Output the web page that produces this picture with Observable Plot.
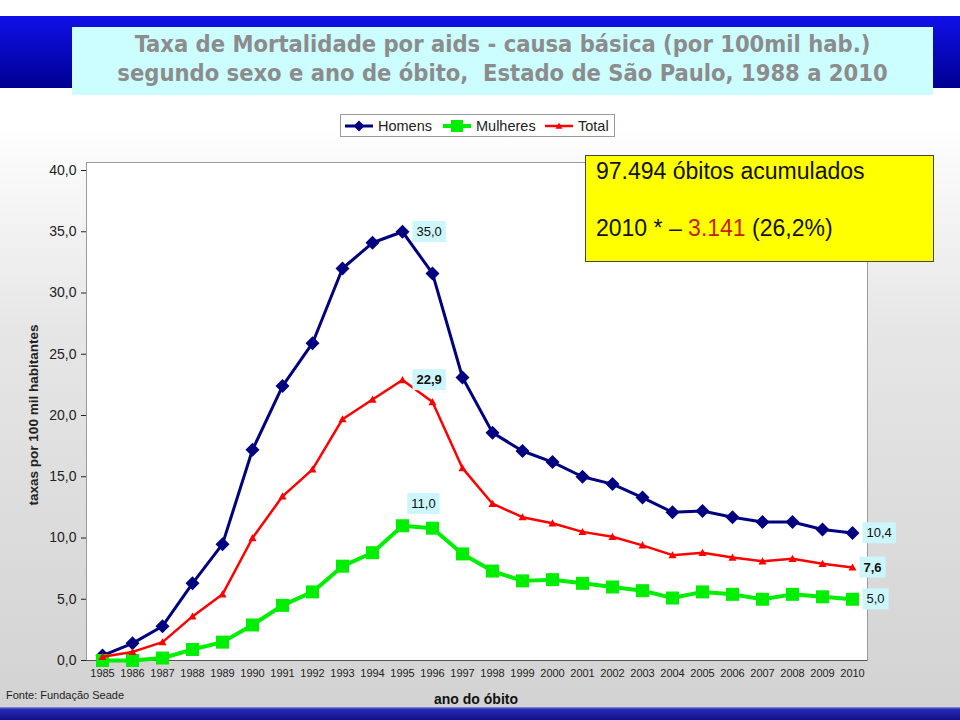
<!DOCTYPE html>
<html>
<head>
<meta charset="utf-8">
<script src="https://cdn.jsdelivr.net/npm/d3@7"></script>
<script src="https://cdn.jsdelivr.net/npm/@observablehq/plot@0.6"></script>
<style>
  body { margin: 0; }
  #page { position: relative; width: 960px; height: 720px; overflow: hidden;
    background: linear-gradient(to bottom, #ffffff 0px, #ffffff 120px, #e6e6e6 330px, #d3d3d3 700px);
    font-family: "Liberation Sans", Arial, sans-serif; }
  #topband { position: absolute; left: 0; top: 16px; width: 960px; height: 72px;
    background: linear-gradient(to bottom, #1010ea, #000092); }
  #titlebox { position: absolute; left: 72px; top: 27px; width: 861px; height: 68px; background: #ccfdff;
    box-sizing: border-box; padding-top: 3px; text-align: center; color: #8c8c8c;
    font-family: "DejaVu Sans Condensed", "DejaVu Sans", sans-serif; font-weight: bold; font-size: 23.5px; line-height: 29px; }
  #chart { position: absolute; left: 0; top: 0; }
  #legend { position: absolute; left: 340px; top: 114px; width: 275px; height: 23px; box-sizing: border-box;
    border: 1px solid #9a9a9a; background: #fff; font-size: 14.5px; color: #222; }
  #legend .item { position: absolute; top: 2px; height: 18px; line-height: 18px; }
  #legend svg { position: absolute; top: 0; left: 0; }
  #legend span { position: absolute; top: 0; white-space: nowrap; }
  #ybox { position: absolute; left: 585px; top: 155px; width: 349px; height: 107px; box-sizing: border-box;
    border: 1px solid #444; background: #ffff00; color: #111; font-size: 23px; }
  #ybox div { position: absolute; left: 10px; white-space: nowrap; }
  #ylabel { position: absolute; left: 33px; top: 415px; transform: translate(-50%, -50%) rotate(-90deg);
    font-weight: bold; font-size: 13.5px; color: #222; white-space: nowrap; }
  #xlabel { position: absolute; left: 476px; top: 699px; transform: translate(-50%, -50%);
    font-weight: bold; font-size: 14px; color: #111; white-space: nowrap; }
  #fonte { position: absolute; left: 6px; top: 689px; font-size: 11px; color: #222; white-space: nowrap; }
  #botband { position: absolute; left: 0; top: 707px; width: 960px; height: 13px;
    background: linear-gradient(to bottom, #8c9be8 0px, #2a2ab4 2px, #10108a 13px); }
</style>
</head>
<body>
<div id="page">
  <div id="topband"></div>
  <div id="titlebox">Taxa de Mortalidade por aids - causa básica (por 100mil hab.)<br>segundo sexo e ano de óbito,&nbsp; Estado de São Paulo, 1988 a 2010</div>
  <div id="chart"></div>
  <div id="legend"></div>
  <div id="ybox">
    <div style="top:2px">97.494 óbitos acumulados</div>
    <div style="top:59px">2010 * – <span style="color:#c8200c">3.141</span> (26,2%)</div>
  </div>
  <div id="ylabel">taxas por 100 mil habitantes</div>
  <div id="xlabel">ano do óbito</div>
  <div id="fonte">Fonte: Fundação Seade</div>
  <div id="botband"></div>
</div>
<script>
// ---- data ----
const years = [1985,1986,1987,1988,1989,1990,1991,1992,1993,1994,1995,1996,1997,1998,1999,2000,2001,2002,2003,2004,2005,2006,2007,2008,2009,2010];
const homens   = [0.4,1.4,2.8,6.3,9.5,17.2,22.4,25.9,32.0,34.1,35.0,31.6,23.1,18.6,17.1,16.2,15.0,14.4,13.3,12.1,12.2,11.7,11.3,11.3,10.7,10.4];
const mulheres = [0.0,0.0,0.2,0.9,1.5,2.9,4.5,5.6,7.7,8.8,11.0,10.8,8.7,7.3,6.5,6.6,6.3,6.0,5.7,5.1,5.6,5.4,5.0,5.4,5.2,5.0];
const total    = [0.3,0.7,1.5,3.6,5.4,10.0,13.4,15.6,19.7,21.3,22.9,21.1,15.7,12.8,11.7,11.2,10.5,10.1,9.4,8.6,8.8,8.4,8.1,8.3,7.9,7.6];
const yTicks = [0,5,10,15,20,25,30,35,40];
const seriesNames = ["Homens","Mulheres","Total"];
const seriesColors = ["#000080","#00ee00","#ff0000"];
const peakYear = 1995;
const lastYear = 2010;

const rows = years.map((year, i) => ({year, homens: homens[i], mulheres: mulheres[i], total: total[i]}));
const fmt = v => v.toFixed(1).replace(".", ",");

// custom symbols
const diamondSym = {draw(ctx, size) { const r = Math.sqrt(size / Math.PI); ctx.moveTo(0, -r); ctx.lineTo(r, 0); ctx.lineTo(0, r); ctx.lineTo(-r, 0); ctx.closePath(); }};
const squareSym  = {draw(ctx, size) { const r = Math.sqrt(size / Math.PI); ctx.rect(-r, -r, 2 * r, 2 * r); }};
const triSym     = {draw(ctx, size) { const r = Math.sqrt(size / Math.PI); ctx.moveTo(0, -r); ctx.lineTo(r, r * 0.8); ctx.lineTo(-r, r * 0.8); ctx.closePath(); }};

const peak = rows.filter(d => d.year === peakYear);
const last = rows.filter(d => d.year === lastYear);
const CALLOUT_SIZE = 13;

const chart = Plot.plot({
  width: 960,
  height: 720,
  marginLeft: 86,
  marginRight: 93,
  marginTop: 162,
  marginBottom: 60,
  style: {background: "transparent", fontFamily: "'Liberation Sans', Arial, sans-serif", fontSize: "14px", color: "#222"},
  x: {type: "band", domain: years, padding: 0, axis: null},
  y: {domain: [0, 40], insetTop: 8, ticks: yTicks, tickFormat: fmt, tickSize: 5, tickPadding: 5, label: null, line: true},
  marks: [
    Plot.frame({fill: "white", stroke: "#9a9a9a"}),
    Plot.ruleY([0], {stroke: "#555"}),
    Plot.text(years, {x: d => d, frameAnchor: "bottom", dy: 16, text: d => String(d), fontSize: 11, fill: "#222"}),
    Plot.line(rows, {x: "year", y: "homens", stroke: seriesColors[0], strokeWidth: 3}),
    Plot.dot(rows, {x: "year", y: "homens", symbol: diamondSym, r: 7, fill: seriesColors[0], stroke: "none"}),
    Plot.line(rows, {x: "year", y: "mulheres", stroke: seriesColors[1], strokeWidth: 4}),
    Plot.dot(rows, {x: "year", y: "mulheres", symbol: squareSym, r: 6.5, fill: seriesColors[1], stroke: "none"}),
    Plot.line(rows, {x: "year", y: "total", stroke: seriesColors[2], strokeWidth: 2.5}),
    Plot.dot(rows, {x: "year", y: "total", symbol: triSym, r: 4, fill: seriesColors[2], stroke: "none"}),
    Plot.text(peak, {x: "year", y: "homens", text: d => fmt(d.homens), dx: 14, textAnchor: "start", fontSize: CALLOUT_SIZE, fill: "#111"}),
    Plot.text(peak, {x: "year", y: "total", text: d => fmt(d.total), dx: 14, textAnchor: "start", fontSize: CALLOUT_SIZE, fontWeight: "bold", fill: "#111"}),
    Plot.text(peak, {x: "year", y: "mulheres", text: d => fmt(d.mulheres), dx: 21, dy: -22, textAnchor: "middle", fontSize: CALLOUT_SIZE, fill: "#111"}),
    Plot.text(last, {x: "year", y: "homens", text: d => fmt(d.homens), dx: 14, textAnchor: "start", fontSize: CALLOUT_SIZE, fill: "#111"}),
    Plot.text(last, {x: "year", y: "total", text: d => fmt(d.total), dx: 11, textAnchor: "start", fontSize: CALLOUT_SIZE, fontWeight: "bold", fill: "#111"}),
    Plot.text(last, {x: "year", y: "mulheres", text: d => fmt(d.mulheres), dx: 14, textAnchor: "start", fontSize: CALLOUT_SIZE, fill: "#111"})
  ]
});
document.getElementById("chart").append(chart);

// cyan boxes behind callouts (the text marks with font-size 13)
d3.select(chart).selectAll("g").filter(function () { return this.getAttribute("font-size") == String(CALLOUT_SIZE); })
  .selectAll("text").each(function () {
    const b = this.getBBox();
    const r = document.createElementNS("http://www.w3.org/2000/svg", "rect");
    r.setAttribute("x", b.x - 4);
    r.setAttribute("y", b.y - 3);
    r.setAttribute("width", b.width + 8);
    r.setAttribute("height", b.height + 6);
    r.setAttribute("fill", "#ccf6fb");
    const t = this.getAttribute("transform");
    if (t) r.setAttribute("transform", t);
    this.parentNode.insertBefore(r, this);
  });

// legend
const legend = document.getElementById("legend");
const legendSyms = [diamondSym, squareSym, triSym];
const legendR = [5.5, 6, 3.5];
const legendW = [3, 4, 2.5];
const legendX = [4, 102, 204];
seriesNames.forEach((name, i) => {
  const item = document.createElement("div");
  item.className = "item";
  item.style.left = legendX[i] + "px";
  const svg = d3.create("svg").attr("width", 30).attr("height", 18);
  svg.append("line").attr("x1", 0).attr("x2", 28).attr("y1", 9).attr("y2", 9).attr("stroke", seriesColors[i]).attr("stroke-width", legendW[i]);
  svg.append("path").attr("transform", "translate(14,9)").attr("fill", seriesColors[i])
    .attr("d", d3.symbol(legendSyms[i], Math.PI * legendR[i] * legendR[i])());
  item.append(svg.node());
  const span = document.createElement("span");
  span.style.left = "33px";
  span.textContent = name;
  item.append(span);
  legend.append(item);
});
</script>
</body>
</html>
